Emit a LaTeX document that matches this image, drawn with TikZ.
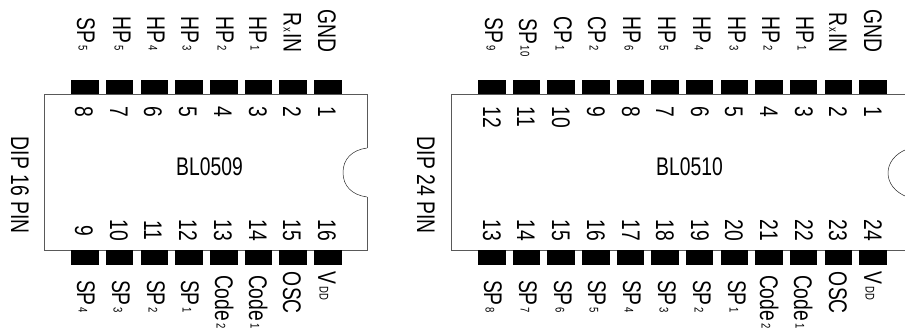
\documentclass[tikz,border=0pt]{standalone}
\usepackage{fontspec}
\setmainfont{Liberation Sans}
\newcommand{\mainsz}{\fontsize{19.3}{19.3}\selectfont}
\newcommand{\subsz}{\fontsize{9.5}{9.5}\selectfont}
\newcommand{\sq}[1]{\scalebox{1}[1.32]{#1}}
\newcommand{\sbs}[1]{\kern2pt\raisebox{1.2pt}{\subsz #1}}
\newcommand{\sbx}[1]{\kern1pt{\subsz #1}\kern1pt}
\tikzset{
  x=1pt,y=-1pt,
  pinbox/.style={fill=black,draw=none,minimum width=27.5pt,minimum height=14pt,inner sep=0pt,outer sep=0pt},
  chip/.style={draw=black!65,line width=0.9pt},
  notch/.style={draw=black!85,line width=0.5pt},
  txt/.style={inner sep=0pt,outer sep=0pt,font=\mainsz,text=black},
  toplab/.style={txt,rotate=-90,anchor=base east},
  botlab/.style={txt,rotate=-90,anchor=base west},
  topnum/.style={txt,rotate=-90,anchor=base west},
  botnum/.style={txt,rotate=-90,anchor=base},
  chipname/.style={txt,anchor=base},
}
\begin{document}
\begin{tikzpicture}
\useasboundingbox (0,0) rectangle (905,331);
% left chip outline
\draw[chip] (367,148) -- (367,94) -- (44,94) -- (44,250.5) -- (367,250.5) -- (367,197);
\draw[notch] (367,148) .. controls (352,150) and (343,159) .. (343,172.5) .. controls (343,186) and (352,195) .. (367,197);
% right chip outline
\draw[chip] (905,94) -- (451,94) -- (451,250.5) -- (905,250.5);
\draw[notch] (905,150) .. controls (896,154) and (888,162) .. (888,173) .. controls (888,184) and (896,192) .. (905,196);
% left chip pins
\foreach \n/\i in {a/0,b/1,c/2,d/3,e/4,f/5,g/6,h/7}{
  \node[pinbox] (lt\n) at ({85+34.7*\i},87.5) {};
  \node[pinbox] (lb\n) at ({85+34.7*\i},257.5) {};
}
% right chip pins
\foreach \n/\i in {a/0,b/1,c/2,d/3,e/4,f/5,g/6,h/7,i/8,j/9,k/10,l/11}{
  \node[pinbox] (rt\n) at ({491.8+34.65*\i},87.5) {};
  \node[pinbox] (rb\n) at ({491.8+34.65*\i},257.5) {};
}
% left top labels
\foreach \n/\x/\y/\t in {a/77/51/SP\sbs{5},b/113/51/HP\sbs{5},c/147/51/HP\sbs{4},d/181/51/HP\sbs{3},e/216/51/HP\sbs{2},f/249/51/HP\sbs{1},g/283.5/52.5/R\sbx{x}IN,h/318/52.5/GND}{
  \node[toplab] (ltl\n) at (\x,\y) {\sq{\t}};
}
% left top numbers
\foreach \n/\x/\t in {a/75/8,b/110/7,c/144/6,d/179/5,e/214/4,f/249/3,g/283/2,h/318/1}{
  \node[topnum] (ltn\n) at (\x,107) {\sq{\t}};
}
% left bottom numbers
\foreach \n/\x/\t in {a/75/9,b/110/10,c/144/11,d/179/12,e/214/13,f/249/14,g/283/15,h/318/16}{
  \node[botnum] (lbn\n) at (\x,230.5) {\sq{\t}};
}
% left bottom labels
\foreach \n/\x/\y/\t in {a/77/280/SP\sbs{4},b/112/280/SP\sbs{3},c/147/280/SP\sbs{2},d/181/280/SP\sbs{1},e/215/275/Code\sbs{2},f/249/275/Code\sbs{1},g/283/272/OSC,h/318/272/V\sbs{DD}}{
  \node[botlab] (lbl\n) at (\x,\y) {\sq{\t}};
}
% right top labels
\foreach \n/\x/\y/\t in {a/485/51/SP\sbs{9},b/519/56.5/SP\sbs{10},c/554/51/CP\sbs{1},d/588/51/CP\sbs{2},e/623/51/HP\sbs{6},f/658/51/HP\sbs{5},g/693/51/HP\sbs{4},h/728/51/HP\sbs{3},i/762/51/HP\sbs{2},j/796/51/HP\sbs{1},k/829/52.5/R\sbx{x}IN,l/864/52.5/GND}{
  \node[toplab] (rtl\n) at (\x,\y) {\sq{\t}};
}
% right top numbers
\foreach \n/\x/\t in {a/483/12,b/517/11,c/552/10,d/587/9,e/622/8,f/656/7,g/691/6,h/725/5,i/760/4,j/795/3,k/829/2,l/864/1}{
  \node[topnum] (rtn\n) at (\x,107) {\sq{\t}};
}
% right bottom numbers
\foreach \n/\x/\t in {a/483/13,b/517/14,c/552/15,d/587/16,e/622/17,f/656/18,g/691/19,h/725/20,i/760/21,j/795/22,k/829/23,l/864/24}{
  \node[botnum] (rbn\n) at (\x,230.5) {\sq{\t}};
}
% right bottom labels
\foreach \n/\x/\y/\t in {a/484/280/SP\sbs{8},b/519/280/SP\sbs{7},c/554/280/SP\sbs{6},d/588/280/SP\sbs{5},e/623/280/SP\sbs{4},f/658/280/SP\sbs{3},g/693/280/SP\sbs{2},h/728/280/SP\sbs{1},i/760/275/Code\sbs{2},j/794/275/Code\sbs{1},k/829/272/OSC,l/864/272/V\sbs{DD}}{
  \node[botlab] (rbl\n) at (\x,\y) {\sq{\t}};
}
% side and centre labels
\node[botlab] (dipl) at (11,137) {\sq{DIP 16 PIN}};
\node[botlab] (dipr) at (417,137) {\sq{DIP 24 PIN}};
\node[chipname] (namel) at (209.5,176) {\sq{BL0509}};
\node[chipname] (namer) at (689.5,176) {\sq{BL0510}};
\end{tikzpicture}
\end{document}
